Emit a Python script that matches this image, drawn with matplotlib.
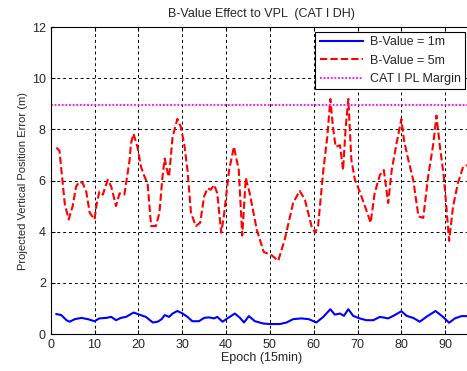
import numpy as np
import matplotlib
matplotlib.use("Agg")
import matplotlib.pyplot as plt

plt.rcParams['font.family'] = ['Liberation Sans', 'DejaVu Sans']

# B-Value = 1m
x_1m = [1.3, 2.4, 3.6, 4.3, 5.5, 7, 8.5, 10, 11.1, 12.7, 13.8, 14.9, 16, 17.2, 18.9,
        20.2, 21.7, 23.3, 24.4, 25.3, 26, 27, 27.8, 28.9, 30.1, 31.2, 32.3, 33.8, 35,
        36.1, 37.3, 38, 39.2, 40.3, 42, 43.2, 44.1, 45.2, 46.6, 48.5, 50, 52.3, 53.8,
        55.3, 57.2, 58.9, 60.6, 62.2, 63.8, 64.8, 66, 66.9, 67.9, 69, 70.5, 72, 73.6,
        75.1, 77, 78.5, 80, 81.2, 82.7, 84.2, 85.7, 87.8, 89.5, 90.9, 92.2, 93.7, 95]
y_1m = [0.78, 0.74, 0.54, 0.48, 0.58, 0.63, 0.58, 0.5, 0.61, 0.63, 0.67, 0.54, 0.63, 0.67, 0.84,
        0.76, 0.67, 0.45, 0.48, 0.58, 0.74, 0.67, 0.8, 0.9, 0.8, 0.67, 0.5, 0.5, 0.63,
        0.65, 0.61, 0.67, 0.48, 0.61, 0.8, 0.63, 0.45, 0.7, 0.5, 0.41, 0.39, 0.39, 0.45,
        0.58, 0.61, 0.58, 0.45, 0.67, 0.97, 0.76, 0.8, 0.71, 0.97, 0.71, 0.61, 0.54, 0.54,
        0.67, 0.61, 0.74, 0.89, 0.71, 0.63, 0.48, 0.67, 0.9, 0.67, 0.44, 0.61, 0.7, 0.7]

# B-Value = 5m
x_5m = [1.3, 2, 3.2, 4.1, 5, 5.8, 6.6, 7.3, 8.1, 8.9, 10, 10.4, 11.1, 11.9, 13, 13.8,
        14.9, 15.7, 16.8, 18, 18.3, 18.9, 19.8, 20.6, 21.4, 22.1, 22.9, 24, 24.8, 25.5,
        26, 26.7, 27, 27.8, 28.9, 29.7, 30.5, 31.2, 32, 33.1, 34.1, 35, 35.8, 36.5, 37.3,
        38, 38.9, 39.5, 40.7, 41.8, 42.9, 43.7, 44.5, 45.4, 47, 48.6, 50.4, 51.9, 53.4,
        55.3, 56.8, 58, 59.5, 60.3, 61, 62.2, 63.1, 63.8, 64.4, 65, 66, 66.7, 67.3, 67.9,
        68.6, 69.4, 70.5, 71.7, 73, 73.9, 75.1, 76, 77, 77.8, 78.9, 80, 80.6, 81.6, 82.7,
        83.9, 85, 86.1, 87.3, 88, 88.8, 89.7, 90.9, 91.8, 92.9, 94.1, 95]
y_5m = [7.29, 7.16, 5.1, 4.48, 5.0, 5.77, 5.96, 5.9, 5.57, 4.74, 4.48, 5.0, 5.57, 5.45, 6.03, 5.77,
        5.0, 5.5, 5.45, 6.8, 7.45, 7.83, 7.3, 6.54, 6.15, 5.9, 4.22, 4.22, 4.74, 6.15,
        6.86, 6.28, 6.15, 7.7, 8.41, 8.09, 7.38, 6.41, 4.74, 4.22, 4.35, 5.38, 5.7, 5.64, 5.83,
        5.5, 3.96, 4.6, 6.41, 7.32, 6.41, 3.85, 6.1, 5.5, 4.09, 3.21, 3.08, 2.86, 3.7,
        5.12, 5.6, 5.25, 4.22, 3.96, 4.22, 6.41, 7.7, 9.19, 8.09, 7.32, 7.38, 6.41, 8.09, 9.19,
        6.8, 6.03, 5.57, 4.99, 4.35, 5.5, 6.22, 6.41, 5.12, 6.41, 7.45, 8.41, 7.57, 6.8, 6.03,
        4.6, 4.54, 6.15, 7.45, 8.54, 7.32, 6.15, 3.64, 4.99, 5.9, 6.54, 6.6]

margin = 8.95

txt = '#262626'
fig = plt.figure(figsize=(4.67, 3.71), dpi=100)
ax = fig.add_axes([0.1086, 0.0997, 0.901, 0.8273])

ax.plot(x_1m, y_1m, color='#0000ff', lw=1.5, label='B-Value = 1m')
ax.plot(x_5m, y_5m, color='#ff0000', lw=1.5, ls=(0, (3.5, 1.5)), label='B-Value = 5m')
ax.axhline(margin, color='#ff00ff', lw=1.3, ls=(0, (1, 1)), label='CAT I PL Margin')

ax.set_xlim(0, 96)
ax.set_ylim(0, 12)
ax.set_xticks(range(0, 100, 10))
ax.set_yticks(range(0, 13, 2))
ax.tick_params(direction='in', top=True, right=True, labelsize=9, length=3,
               labelcolor=txt)
ax.grid(True, color='black', lw=0.7, ls=(0, (3, 3)))

ax.set_title('B-Value Effect to VPL  (CAT I DH)', fontsize=9, pad=7, color=txt)
ax.set_xlabel('Epoch (15min)', fontsize=9, labelpad=1, color=txt)
ax.set_ylabel('Projected Vertical Position Error (m)', fontsize=8, labelpad=3, color=txt)

leg = ax.legend(loc='upper right', bbox_to_anchor=(465 / 467, 1 - 32 / 371),
                bbox_transform=fig.transFigure, fontsize=9, fancybox=False,
                framealpha=1, edgecolor='black', borderpad=0.35, labelspacing=0.5,
                handlelength=3.5, handletextpad=0.5, borderaxespad=0)
leg.get_frame().set_linewidth(0.8)
for t in leg.get_texts():
    t.set_color(txt)

plt.savefig('out.png', dpi=100)
